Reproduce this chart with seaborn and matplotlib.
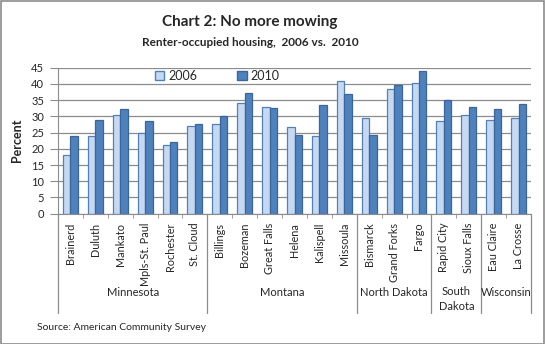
import matplotlib
matplotlib.use("Agg")
import matplotlib.pyplot as plt
import matplotlib.transforms as mtrans
from matplotlib.patches import Rectangle, Patch
import seaborn as sns
import pandas as pd

cities = ["Brainerd", "Duluth", "Mankato", "Mpls-St. Paul", "Rochester", "St. Cloud",
          "Billings", "Bozeman", "Great Falls", "Helena", "Kalispell", "Missoula",
          "Bismarck", "Grand Forks", "Fargo",
          "Rapid City", "Sioux Falls",
          "Eau Claire", "La Crosse"]
states = ["Minnesota", "Montana", "North Dakota", "South\nDakota", "Wisconsin"]
state_counts = [6, 6, 3, 2, 2]
v2006 = [18.0, 23.9, 30.3, 24.8, 21.1, 27.0,
         27.5, 34.1, 32.8, 26.6, 23.9, 40.9,
         29.4, 38.4, 40.3,
         28.5, 30.3,
         28.8, 29.4]
v2010 = [23.9, 28.9, 32.3, 28.6, 22.0, 27.6,
         30.0, 37.3, 32.6, 24.2, 33.5, 37.0,
         24.2, 39.7, 44.1,
         35.0, 32.9,
         32.3, 33.9]
years = ["2006", "2010"]

df = pd.DataFrame({
    "city": cities * 2,
    "value": v2006 + v2010,
    "year": [years[0]] * len(cities) + [years[1]] * len(cities),
})

sns.set_style("white")
plt.rcParams["font.family"] = ["Lato", "DejaVu Sans"]

W, H = 545, 344
fig = plt.figure(figsize=(W / 100, H / 100), dpi=100)
ax = fig.add_axes([58 / W, 1 - 213.7 / H, (531 - 58) / W, (213.7 - 67.7) / H])

fills = {"2006": "#C6D9F1", "2010": "#4F81BD"}
edges = {"2006": "#4F81BD", "2010": "#3A6699"}
sns.barplot(data=df, x="city", y="value", hue="year", order=cities, hue_order=years,
            palette=fills, width=0.6, ax=ax, legend=False, saturation=1)
for container, yr in zip(ax.containers, years):
    for p in container:
        p.set_edgecolor(edges[yr])
        p.set_linewidth(0.9)

ax.set_ylim(0, 45)
ax.set_yticks(range(0, 46, 5))
ax.set_xlim(-0.5, len(cities) - 0.5)
ax.yaxis.grid(True, color="#8C8C8C", linewidth=0.9)
ax.set_axisbelow(True)
for s in ["top", "right"]:
    ax.spines[s].set_visible(False)
ax.spines["left"].set_color("#8C8C8C")
ax.spines["bottom"].set_color("#8C8C8C")
ax.tick_params(axis="y", left=True, length=5.5, color="#8C8C8C", labelsize=8, pad=4.5)
ax.set_xticks(range(len(cities)))
ax.set_xticklabels(cities, rotation=90, fontsize=7.8)
ax.tick_params(axis="x", bottom=False, pad=3)
ax.set_xticks([i - 0.5 for i in range(1, len(cities))], minor=True)
ax.tick_params(axis="x", which="minor", bottom=True, length=3, color="#8C8C8C")
ax.set_xlabel("")
ax.set_ylabel("Percent", fontsize=9, fontweight="bold", labelpad=6)

# group separators and labels
trans = mtrans.blended_transform_factory(ax.transData, fig.transFigure)
ybot = 1 - 313 / H
ytop = 1 - 213.7 / H
start = 0
bounds = [-0.5]
for st, n in zip(states, state_counts):
    end = start + n
    bounds.append(end - 0.5)
    cx = (start + end - 1) / 2
    if "\n" in st:
        ax.text(cx, 1 - 299 / H, st, transform=trans, ha="center", va="center",
                fontsize=8, linespacing=1.35)
    else:
        ax.text(cx, 1 - 292 / H, st, transform=trans, ha="center", va="center", fontsize=8)
    start = end
for b in bounds:
    ax.plot([b, b], [ybot, ytop], transform=trans, color="#8C8C8C", lw=0.9, clip_on=False)

# legend
handles = [Patch(facecolor=fills[y], edgecolor=edges[y], label=y) for y in years]
fig.legend(handles=handles, loc="center left", bbox_to_anchor=(155 / W, 1 - 75.7 / H),
           ncol=2, frameon=False, fontsize=9, handlelength=0.75, handleheight=0.75,
           handletextpad=0.3, columnspacing=3.2, borderpad=0, borderaxespad=0)

fig.text(250 / W, 1 - 22 / H, "Chart 2: No more mowing", ha="center", va="center",
         fontsize=11, fontweight="bold")
fig.text(250 / W, 1 - 42 / H, "Renter-occupied housing,  2006 vs.  2010", ha="center", va="center",
         fontsize=8.5, fontweight="bold")
fig.text(37 / W, 1 - 328 / H, "Source: American Community Survey", ha="left", va="center",
         fontsize=7.5)

fig.patches.append(Rectangle((0.5 / W, 0.5 / H), 1 - 1.5 / W, 1 - 1.5 / H, transform=fig.transFigure,
                             fill=False, edgecolor="#8C8C8C", linewidth=1.2))

fig.savefig("out.png", dpi=100)
